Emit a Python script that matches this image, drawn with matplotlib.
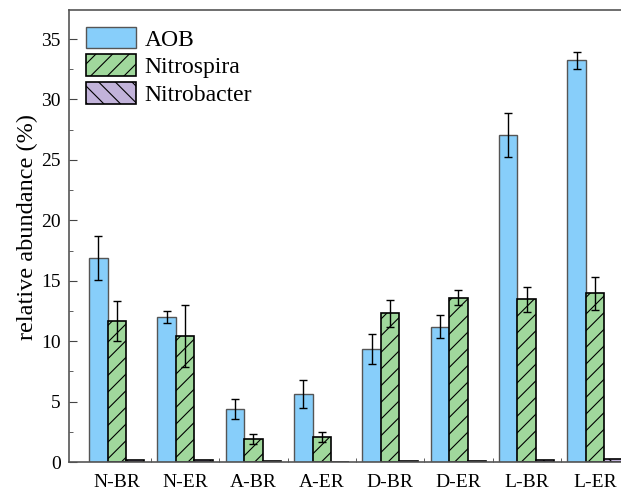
import numpy as np
import matplotlib
matplotlib.use('Agg')
import matplotlib.pyplot as plt
from matplotlib.ticker import MultipleLocator, FixedLocator

plt.rcParams['font.family'] = ['Liberation Serif', 'DejaVu Serif']
plt.rcParams['hatch.linewidth'] = 0.8

groups = ['N-BR', 'N-ER', 'A-BR', 'A-ER', 'D-BR', 'D-ER', 'L-BR', 'L-ER']
aob = [16.9, 12.0, 4.4, 5.6, 9.35, 11.2, 27.05, 33.25]
aob_err = [1.8, 0.5, 0.85, 1.15, 1.2, 0.95, 1.85, 0.7]
nitrospira = [11.7, 10.4, 1.9, 2.05, 12.3, 13.6, 13.45, 13.95]
nitrospira_err = [1.65, 2.55, 0.45, 0.4, 1.1, 0.6, 1.05, 1.35]
nitrobacter = [0.15, 0.2, 0.05, 0.04, 0.05, 0.05, 0.15, 0.25]

x = np.arange(len(groups))
w = 0.27

fig = plt.figure(figsize=(6.21, 4.90), dpi=100)
ax = fig.add_axes([69 / 621, 28 / 490, 580 / 621, 452 / 490])

ekw = dict(ecolor='black', elinewidth=1, capsize=3.2, capthick=1)
ax.bar(x - w, aob, w, color='#87cefa', edgecolor='#555555', linewidth=1.0,
       label='AOB', yerr=aob_err, error_kw=ekw)
ax.bar(x, nitrospira, w, color='#a0d89c', edgecolor='black', linewidth=1.2,
       hatch='//', label='Nitrospira', yerr=nitrospira_err, error_kw=ekw)
ax.bar(x + w, nitrobacter, w, color='#c2b3da', edgecolor='black', linewidth=1.2,
       hatch='\\\\', label='Nitrobacter')

ax.set_xlim(-0.70, 7.79)
ax.set_ylim(0, 37.4)
ax.set_xticks(x)
ax.set_xticklabels(groups, fontsize=14)
ax.tick_params(axis='x', which='major', length=0, pad=8.5)
ax.xaxis.set_minor_locator(FixedLocator(x[:-1] + 0.5))
ax.tick_params(axis='x', which='minor', length=3, direction='in', color='#444444')

ax.yaxis.set_major_locator(MultipleLocator(5))
ax.yaxis.set_minor_locator(MultipleLocator(2.5))
ax.tick_params(axis='y', which='major', direction='in', length=6, pad=6,
               labelsize=14, color='#444444')
ax.tick_params(axis='y', which='minor', direction='in', length=3, color='#444444')
ax.set_ylabel('relative abundance (%)', fontsize=17.5)
ax.yaxis.set_label_coords(-0.053, 0.52)

for s in ax.spines.values():
    s.set_color('#555555')
    s.set_linewidth(1.2)

ax.legend(loc='upper left', frameon=False, fontsize=17, handlelength=2.15,
          handleheight=1.05, labelspacing=0.15, handletextpad=0.35,
          borderaxespad=0.3, borderpad=0.4, bbox_to_anchor=(0.0, 1.0))

fig.savefig('out.png', dpi=100)
